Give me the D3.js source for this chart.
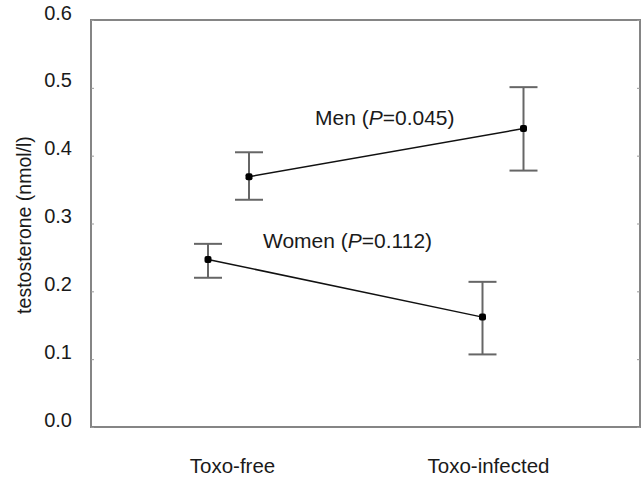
<!DOCTYPE html>
<html>
<head>
<meta charset="utf-8">
<script src="https://cdn.jsdelivr.net/npm/d3@7"></script>
<style>
  body { margin: 0; background: #fff; }
  text { font-family: "Liberation Sans", Arial, sans-serif; fill: #1a1a1a; }
</style>
</head>
<body>
<div id="chart"></div>
<script>
// Groups on the x axis
const groups = ["Toxo-free", "Toxo-infected"];

// Mean testosterone (nmol/l) and error bar ends, per group
const menMean = [0.369, 0.440];
const menLow = [0.335, 0.378];
const menHigh = [0.405, 0.501];

const womenMean = [0.247, 0.162];
const womenLow = [0.220, 0.107];
const womenHigh = [0.270, 0.214];

const yTicks = [0.0, 0.1, 0.2, 0.3, 0.4, 0.5, 0.6];

const width = 641, height = 480;
const margin = { top: 20, right: 1, bottom: 53, left: 91 };

const svg = d3.select("#chart")
  .append("svg")
  .attr("width", width)
  .attr("height", height);

const y = d3.scaleLinear().domain([0, 0.6]).range([height - margin.bottom, margin.top]);
// category centres for the marks; the two series sit either side of it
const x = d3.scalePoint().domain(groups).range([228.5, 503]);
// tick labels are placed a little differently in the original
const xLabel = d3.scalePoint().domain(groups).range([232, 488]);

const series = [
  { name: "Men", p: "0.045", mean: menMean, low: menLow, high: menHigh, offset: 20.5 },
  { name: "Women", p: "0.112", mean: womenMean, low: womenLow, high: womenHigh, offset: -20.5 },
];

// Frame
svg.append("rect")
  .attr("x", margin.left)
  .attr("y", margin.top)
  .attr("width", width - margin.right - margin.left)
  .attr("height", height - margin.bottom - margin.top)
  .attr("fill", "none")
  .attr("stroke", "#858585")
  .attr("stroke-width", 2);

// Left axis: labels and small inward ticks
const yAxis = svg.append("g")
  .attr("transform", "translate(" + margin.left + ",0)")
  .call(d3.axisRight(y).tickValues(yTicks).tickSize(3).tickFormat(d3.format(".1f")));
yAxis.select(".domain").remove();
yAxis.selectAll(".tick line").attr("stroke", "#999");
yAxis.selectAll(".tick text")
  .attr("x", -19)
  .attr("dy", "-0.05em")
  .attr("text-anchor", "end")
  .style("font-size", "20px");

// Right axis: only inward ticks
const yAxisR = svg.append("g")
  .attr("transform", "translate(" + (width - margin.right) + ",0)")
  .call(d3.axisLeft(y).tickValues(yTicks).tickSize(3).tickFormat(""));
yAxisR.select(".domain").remove();
yAxisR.selectAll(".tick line").attr("stroke", "#999");

// X labels
const xAxis = svg.append("g")
  .attr("transform", "translate(0," + (height - margin.bottom) + ")")
  .call(d3.axisBottom(xLabel).tickSize(0));
xAxis.select(".domain").remove();
xAxis.selectAll(".tick text")
  .attr("y", 46)
  .attr("dy", 0)
  .style("font-size", "20.5px");

// Y title
svg.append("text")
  .attr("transform", "translate(31," + 225 + ") rotate(-90)")
  .attr("text-anchor", "middle")
  .style("font-size", "19.5px")
  .text("testosterone (nmol/l)");

// Series
const line = d3.line();
const cap = 14;

series.forEach(function (s) {
  const g = svg.append("g");
  const px = groups.map((c) => x(c) + s.offset);

  // error bars
  groups.forEach(function (c, i) {
    const eb = g.append("g").attr("stroke", "#666").attr("stroke-width", 2);
    eb.append("line")
      .attr("x1", px[i]).attr("x2", px[i])
      .attr("y1", y(s.low[i])).attr("y2", y(s.high[i]));
    eb.append("line")
      .attr("x1", px[i] - cap).attr("x2", px[i] + cap)
      .attr("y1", y(s.low[i])).attr("y2", y(s.low[i]));
    eb.append("line")
      .attr("x1", px[i] - cap).attr("x2", px[i] + cap)
      .attr("y1", y(s.high[i])).attr("y2", y(s.high[i]));
  });

  g.append("path")
    .attr("d", line(groups.map((c, i) => [px[i], y(s.mean[i])])))
    .attr("fill", "none")
    .attr("stroke", "#111")
    .attr("stroke-width", 1.5);

  g.selectAll("rect.pt")
    .data(s.mean)
    .enter()
    .append("rect")
    .attr("class", "pt")
    .attr("x", (d, i) => px[i] - 3.5)
    .attr("y", (d) => y(d) - 3.5)
    .attr("width", 7)
    .attr("height", 7)
    .attr("rx", 2)
    .attr("fill", "#000");
});

// Annotations with italic P
function annotate(s, tx, ty) {
  const t = svg.append("text")
    .attr("x", tx)
    .attr("y", ty)
    .style("font-size", "21px");
  t.append("tspan").text(s.name + " (");
  t.append("tspan").style("font-style", "italic").text("P");
  t.append("tspan").text("=" + s.p + ")");
}
annotate(series[0], 315, 125);
annotate(series[1], 263, 248);
</script>
</body>
</html>
